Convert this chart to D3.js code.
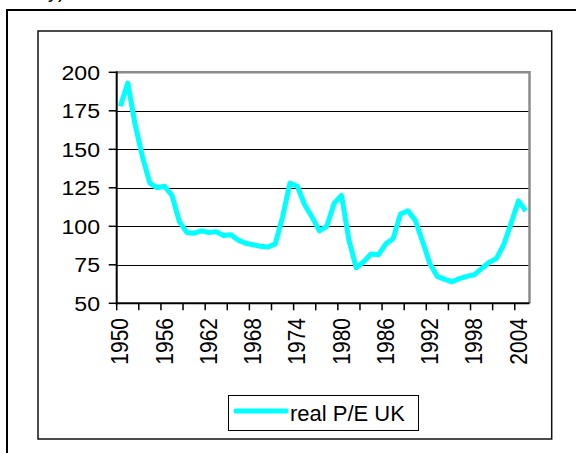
<!DOCTYPE html>
<meta charset="utf-8">
<script src="https://cdn.jsdelivr.net/npm/d3@7"></script>
<style>
body { margin: 0; background: #fff; }
text {
  font-family: Arial, "Liberation Sans", sans-serif;
  fill: #000;
}
.grid line { stroke: #000; stroke-width: 1px; shape-rendering: crispEdges; }
path.pe {
  fill: none;
  stroke: #00ffff;
  stroke-width: 5px;
  stroke-linejoin: round;
}
</style>
<body>
<script>

// categories (years) and the real P/E series
var years = [1950, 1951, 1952, 1953, 1954, 1955, 1956, 1957, 1958, 1959,
             1960, 1961, 1962, 1963, 1964, 1965, 1966, 1967, 1968, 1969,
             1970, 1971, 1972, 1973, 1974, 1975, 1976, 1977, 1978, 1979,
             1980, 1981, 1982, 1983, 1984, 1985, 1986, 1987, 1988, 1989,
             1990, 1991, 1992, 1993, 1994, 1995, 1996, 1997, 1998, 1999,
             2000, 2001, 2002, 2003, 2004, 2005];

var peUK = [178, 193, 166, 145, 128, 125, 126, 120, 103, 96,
            95.5, 97, 96, 96.5, 94, 94.5, 91, 89, 88, 87,
            86.5, 88.5, 106, 128, 126, 114, 106, 97, 100, 115,
            120, 91, 73, 77, 82, 81.5, 88.5, 92, 108, 110,
            104, 90, 75.5, 67.5, 65.5, 64, 66, 67.5, 68.5, 72.5,
            76.5, 79, 88, 102, 116.5, 110];

var yTicks = [50, 75, 100, 125, 150, 175, 200];
var xLabels = [1950, 1956, 1962, 1968, 1974, 1980, 1986, 1992, 1998, 2004];
var seriesName = "real P/E UK";

var width = 576,
    height = 453;

var svg = d3.select("body").append("svg")
    .attr("width", width)
    .attr("height", height);

// frames
svg.append("rect")
    .attr("x", 7).attr("y", 10)
    .attr("width", 620).attr("height", 500)
    .attr("fill", "none").attr("stroke", "#000").attr("stroke-width", 2);

svg.append("rect")
    .attr("x", 38).attr("y", 31)
    .attr("width", 513.7).attr("height", 408)
    .attr("fill", "none").attr("stroke", "#111").attr("stroke-width", 1.5);

// bit of text cut off at the top
svg.append("text")
    .attr("x", 48).attr("y", -2)
    .style("font-size", "20px")
    .text("y)");

var plotL = 116.7, plotR = 529.5, plotT = 72.3, plotB = 303.3;

var x = d3.scaleBand()
    .domain(years)
    .range([plotL, plotR])
    .padding(0);

var y = d3.scaleLinear()
    .domain([50, 200])
    .range([plotB, plotT]);

var bw = x.bandwidth();

// gridlines
svg.append("g").attr("class", "grid")
  .selectAll("line")
    .data(yTicks.filter(function(v) { return v > 50 && v < 200; }))
    .enter().append("line")
    .attr("x1", plotL).attr("x2", plotR)
    .attr("y1", function(d) { return Math.round(y(d)) + 0.5; })
    .attr("y2", function(d) { return Math.round(y(d)) + 0.5; });

// plot area border (grey top + right)
svg.append("path")
    .attr("d", "M" + plotL + "," + plotT + "H" + plotR + "V" + plotB)
    .attr("fill", "none")
    .attr("stroke", "#8c8c8c")
    .attr("stroke-width", 2.5);

// y axis
svg.append("line")
    .attr("x1", plotL).attr("x2", plotL)
    .attr("y1", plotT - 1).attr("y2", plotB + 1)
    .attr("stroke", "#000").attr("stroke-width", 2);

svg.append("g")
  .selectAll("line")
    .data(yTicks)
    .enter().append("line")
    .attr("x1", plotL - 8).attr("x2", plotL)
    .attr("y1", function(d) { return y(d); })
    .attr("y2", function(d) { return y(d); })
    .attr("stroke", "#000").attr("stroke-width", 1.5);

// labels in the picture are a little wider than plain Arial
svg.append("g")
  .selectAll("text")
    .data(yTicks)
    .enter().append("text")
    .attr("transform", function(d) {
        return "translate(100," + y(d) + ") scale(1.1,1)";
    })
    .attr("dy", "0.35em")
    .attr("text-anchor", "end")
    .style("font-size", "21px")
    .text(function(d) { return d; });

// x axis
svg.append("line")
    .attr("x1", plotL - 1).attr("x2", plotR)
    .attr("y1", plotB).attr("y2", plotB)
    .attr("stroke", "#000").attr("stroke-width", 2);

svg.append("g")
  .selectAll("line")
    .data(years.filter(function(d) { return (d - years[0]) % 3 == 0; }))
    .enter().append("line")
    .attr("x1", function(d) { return x(d); })
    .attr("x2", function(d) { return x(d); })
    .attr("y1", plotB).attr("y2", plotB + 7)
    .attr("stroke", "#000").attr("stroke-width", 1.5);

svg.append("g")
  .selectAll("text")
    .data(xLabels)
    .enter().append("text")
    .attr("transform", function(d) {
        return "translate(" + (x(d) + bw / 2) + "," + 318 + ") rotate(-90) scale(1,1.1)";
    })
    .attr("dy", "0.35em")
    .attr("text-anchor", "end")
    .style("font-size", "21px")
    .text(function(d) { return d; });

// the series
var line = d3.line()
    .x(function(d, i) { return x(years[i]) + bw / 2; })
    .y(function(d) { return y(d); });

svg.append("path")
    .datum(peUK)
    .attr("class", "pe")
    .attr("d", line);

// legend
var legend = svg.append("g");

legend.append("rect")
    .attr("x", 228.5).attr("y", 395.5)
    .attr("width", 190).attr("height", 35)
    .attr("fill", "#fff").attr("stroke", "#000").attr("stroke-width", 1);

legend.append("line")
    .attr("x1", 236).attr("x2", 286)
    .attr("y1", 411).attr("y2", 411)
    .attr("stroke", "#00ffff").attr("stroke-width", 5)
    .attr("stroke-linecap", "round");

legend.append("text")
    .attr("x", 290).attr("y", 421)
    .style("font-size", "22px")
    .text(seriesName);

</script>
</body>
